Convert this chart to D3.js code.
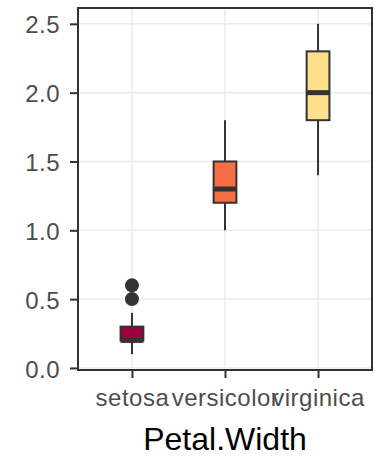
<!DOCTYPE html>
<html>
<head>
<meta charset="utf-8">
<script src="https://cdn.jsdelivr.net/npm/d3@7"></script>
<style>
  html, body { margin: 0; padding: 0; background: #ffffff; }
  svg { display: block; }
</style>
</head>
<body>
<svg id="chart" width="375" height="457"></svg>
<script>
// ---- data (iris Petal.Width by species) ----
const categories = ["setosa", "versicolor", "virginica"];
const whiskerLow  = [0.1, 1.0, 1.4];
const q1          = [0.2, 1.2, 1.8];
const median      = [0.2, 1.3, 2.0];
const q3          = [0.3, 1.5, 2.3];
const whiskerHigh = [0.4, 1.8, 2.5];
const outlierCat  = ["setosa", "setosa"];
const outlierVal  = [0.5, 0.6];
const fillColors  = ["#9E0142", "#F46D43", "#FEE08B"];
const yTicks      = [0.0, 0.5, 1.0, 1.5, 2.0, 2.5];
const axisTitle   = "Petal.Width";

// ---- layout ----
const svg = d3.select("#chart");
const panel = { left: 78, right: 372, top: 8, bottom: 370 };
const font = "'Liberation Sans', Arial, Helvetica, sans-serif";

const x = d3.scalePoint().domain(categories).range([panel.left, panel.right]).padding(0.58);
const y = d3.scaleLinear().domain([-0.015, 2.615]).range([panel.bottom, panel.top]);
const boxW = x.step() * 0.245;

const boxes = categories.map((c, i) => ({
  cat: c, lo: whiskerLow[i], q1: q1[i], med: median[i], q3: q3[i], hi: whiskerHigh[i], fill: fillColors[i]
}));
const outliers = outlierCat.map((c, i) => ({ cat: c, v: outlierVal[i] }));

// grid
const g = svg.append("g");
g.selectAll("line.hgrid").data(yTicks).join("line")
  .attr("x1", panel.left).attr("x2", panel.right)
  .attr("y1", d => y(d)).attr("y2", d => y(d))
  .attr("stroke", "#EBEBEB").attr("stroke-width", 1.5);
g.selectAll("line.vgrid").data(categories).join("line")
  .attr("x1", d => x(d)).attr("x2", d => x(d))
  .attr("y1", panel.top).attr("y2", panel.bottom)
  .attr("stroke", "#EBEBEB").attr("stroke-width", 1.5);

// whiskers
const marks = svg.append("g");
marks.selectAll("line.whisk-lo").data(boxes).join("line")
  .attr("x1", d => x(d.cat)).attr("x2", d => x(d.cat))
  .attr("y1", d => y(d.q1)).attr("y2", d => y(d.lo))
  .attr("stroke", "#333333").attr("stroke-width", 2);
marks.selectAll("line.whisk-hi").data(boxes).join("line")
  .attr("x1", d => x(d.cat)).attr("x2", d => x(d.cat))
  .attr("y1", d => y(d.q3)).attr("y2", d => y(d.hi))
  .attr("stroke", "#333333").attr("stroke-width", 2);

// boxes
marks.selectAll("rect.box").data(boxes).join("rect")
  .attr("x", d => x(d.cat) - boxW / 2)
  .attr("width", boxW)
  .attr("y", d => y(d.q3))
  .attr("height", d => y(d.q1) - y(d.q3))
  .attr("fill", d => d.fill)
  .attr("stroke", "#333333").attr("stroke-width", 2);

// medians
marks.selectAll("line.med").data(boxes).join("line")
  .attr("x1", d => x(d.cat) - boxW / 2).attr("x2", d => x(d.cat) + boxW / 2)
  .attr("y1", d => y(d.med)).attr("y2", d => y(d.med))
  .attr("stroke", "#333333").attr("stroke-width", 5);

// outliers
marks.selectAll("circle.out").data(outliers).join("circle")
  .attr("cx", d => x(d.cat)).attr("cy", d => y(d.v))
  .attr("r", 7).attr("fill", "#333333");

// panel border
svg.append("rect")
  .attr("x", panel.left).attr("y", panel.top)
  .attr("width", panel.right - panel.left).attr("height", panel.bottom - panel.top)
  .attr("fill", "none").attr("stroke", "#333333").attr("stroke-width", 2);

// y axis
const yAxis = svg.append("g")
  .attr("transform", `translate(${panel.left},0)`)
  .call(d3.axisLeft(y).tickValues(yTicks).tickFormat(d3.format(".1f")).tickSize(8).tickPadding(10));
yAxis.select(".domain").remove();
yAxis.selectAll(".tick line").attr("stroke", "#333333").attr("stroke-width", 2);
yAxis.selectAll(".tick text")
  .attr("fill", "#4D4D4D").attr("font-family", font).attr("font-size", 24)
  .attr("letter-spacing", 0.5).attr("dy", "0.38em");

// x axis
const xAxis = svg.append("g")
  .attr("transform", `translate(0,${panel.bottom})`)
  .call(d3.axisBottom(x).tickSize(8).tickPadding(6));
xAxis.select(".domain").remove();
xAxis.selectAll(".tick line").attr("stroke", "#333333").attr("stroke-width", 2);
xAxis.selectAll(".tick text")
  .attr("fill", "#4D4D4D").attr("font-family", font).attr("font-size", 24)
  .attr("letter-spacing", 0.5)
  .attr("dy", null).attr("y", 36);

// axis title
svg.append("text")
  .attr("x", (panel.left + panel.right) / 2)
  .attr("y", 450)
  .attr("text-anchor", "middle")
  .attr("font-family", font).attr("font-size", 32).attr("fill", "#000000")
  .text(axisTitle);
</script>
</body>
</html>
